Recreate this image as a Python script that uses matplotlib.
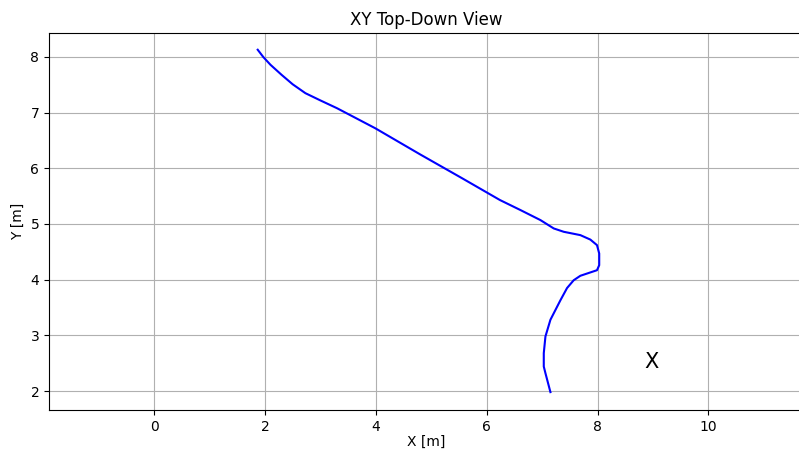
import matplotlib
matplotlib.use("Agg")
import matplotlib.pyplot as plt

# trajectory (metres)
path_x = [1.87, 1.97, 2.10, 2.30, 2.50, 2.73, 3.00, 3.30, 3.99, 4.80, 5.56,
          6.24, 6.61, 6.97, 7.21, 7.39, 7.69, 7.87, 7.99, 8.03, 8.03, 7.99,
          7.87, 7.69, 7.57, 7.45, 7.33, 7.15, 7.06, 7.03, 7.03, 7.06, 7.15]
path_y = [8.13, 8.00, 7.86, 7.68, 7.51, 7.35, 7.22, 7.08, 6.72, 6.25, 5.82,
          5.43, 5.25, 5.07, 4.92, 4.86, 4.80, 4.72, 4.62, 4.47, 4.26, 4.17,
          4.13, 4.07, 3.99, 3.85, 3.63, 3.28, 2.98, 2.68, 2.44, 2.32, 1.98]

target_x = 8.97
target_y = 2.52

fig = plt.figure(figsize=(7.99, 4.5), dpi=100)
ax = fig.add_axes([0.0613, 0.0889, 0.944, 0.8378])
ax.plot(path_x, path_y, color="blue", linewidth=1.5)
ax.text(target_x, target_y, "X", fontsize=15, ha="center", va="center")

ax.set_xlim(-1.895, 11.71)
ax.set_ylim(1.659, 8.431)
ax.set_xticks([0, 2, 4, 6, 8, 10])
ax.set_yticks([2, 3, 4, 5, 6, 7, 8])
ax.grid(True)
ax.set_xlabel("X [m]", labelpad=1)
ax.set_ylabel("Y [m]")
ax.set_title("XY Top-Down View")

fig.savefig("out.png", dpi=100)
